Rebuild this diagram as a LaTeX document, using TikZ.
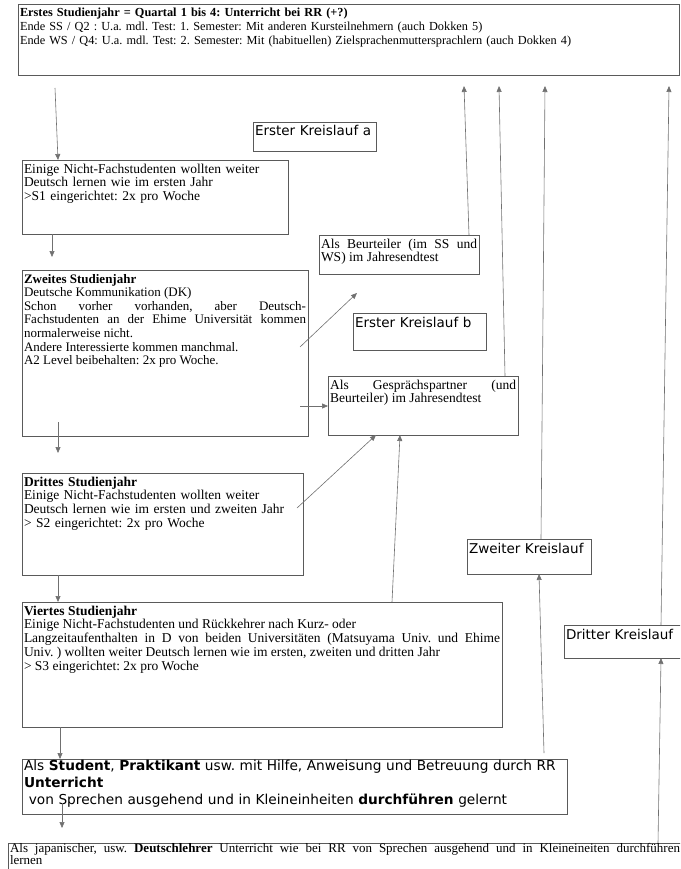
\documentclass[tikz,border=0pt]{standalone}
\usepackage{fontspec}
\setmainfont{Liberation Serif}
\newfontfamily\sansfont{DejaVu Sans}
\usetikzlibrary{arrows.meta}
\definecolor{framegray}{HTML}{5A5A5A}
\definecolor{linegray}{HTML}{707070}
\frenchspacing
\tikzset{
  box/.style={draw=framegray, line width=0.8pt, anchor=north west, inner sep=2pt,
    outer sep=0pt, align=left, text height=11pt, font=\fontsize{13.5}{13.8}\selectfont},
  sbox/.style={box, text height=12pt, font=\sansfont\fontsize{13.5}{17}\selectfont},
  conn/.style={draw=linegray, line width=0.6pt, -{Triangle[length=6pt,width=5pt]}}
}
\begin{document}
\begin{tikzpicture}[x=1pt, y=-1pt]
  \useasboundingbox (0,0) rectangle (680,869);
  \clip (0,0) rectangle (680,869);

  % Year boxes (left column)
  \node[box, text width=657pt, text depth=56pt, font=\fontsize{12.3}{14}\selectfont] (jahr1) at (18,4)
    {\textbf{Erstes Studienjahr = Quartal 1 bis 4: Unterricht bei RR (+?)}\\
     Ende SS / Q2 : U.a. mdl. Test: 1. Semester: Mit anderen Kursteilnehmern (auch Dokken 5)\\
     Ende WS / Q4: U.a. mdl. Test: 2. Semester: Mit (habituellen) Zielsprachenmuttersprachlern (auch Dokken 4)};
  \node[box, text width=262pt, text depth=59pt] (s1) at (22,160)
    {Einige Nicht-Fachstudenten wollten weiter\\Deutsch lernen wie im ersten Jahr\\>S1 eingerichtet: 2x pro Woche};
  \node[box, align=justify, text width=282pt, text depth=151pt, font=\fontsize{13}{13.6}\selectfont] (jahr2) at (22,270)
    {\textbf{Zweites Studienjahr}\\Deutsche Kommunikation (DK)\\
     Schon vorher vorhanden, aber Deutsch-\linebreak Fachstudenten an der Ehime Universit\"at kommen\linebreak
     normalerweise nicht.\\Andere Interessierte kommen manchmal.\\A2 Level beibehalten: 2x pro Woche.};
  \node[box, text width=277pt, text depth=87pt] (jahr3) at (22,473)
    {\textbf{Drittes Studienjahr}\\Einige Nicht-Fachstudenten wollten weiter\\
     Deutsch lernen wie im ersten und zweiten Jahr\\> S2 eingerichtet: 2x pro Woche};
  \node[box, align=justify, text width=476pt, text depth=110pt] (jahr4) at (22,602)
    {\textbf{Viertes Studienjahr}\\Einige Nicht-Fachstudenten und R\"uckkehrer nach Kurz- oder\\
     Langzeitaufenthalten in D von beiden Universit\"aten (Matsuyama Univ. und Ehime\linebreak
     Univ. ) wollten weiter Deutsch lernen wie im ersten, zweiten und dritten Jahr\\
     > S3 eingerichtet: 2x pro Woche};
  \node[sbox, text width=541pt, text height=9.5pt, text depth=41.5pt, font=\sansfont\fontsize{13.7}{17}\selectfont] (student) at (22,759)
    {Als \textbf{Student}, \textbf{Praktikant} usw. mit Hilfe, Anweisung und Betreuung durch RR\\
     \textbf{Unterricht}\\\hspace*{0.35em}von Sprechen ausgehend und in Kleineinheiten \textbf{durchf\"uhren} gelernt};
  \node[box, align=justify, text width=670pt, text height=7pt, text depth=29pt, font=\fontsize{13}{12.5}\selectfont] (lehrer) at (8,843)
    {Als japanischer, usw. \textbf{Deutschlehrer} Unterricht wie bei RR von Sprechen ausgehend und in
     Kleineineiten durchf\"uhren\linebreak lernen};

  % Roles and cycles (right side)
  \node[box, align=justify, text width=156pt, text depth=24pt] (beurteiler) at (319,235)
    {Als Beurteiler (im SS und\linebreak WS) im Jahresendtest};
  \node[box, align=justify, text width=186pt, text depth=44pt] (partner) at (328,376)
    {Als Gespr\"achspartner (und\linebreak Beurteiler) im Jahresendtest};
  \node[sbox, text width=119pt, text depth=13pt] (kla) at (253,122) {Erster Kreislauf a};
  \node[sbox, text width=129pt, text depth=21pt] (klb) at (353,313) {Erster Kreislauf b};
  \node[sbox, text width=120pt, text depth=19pt] (kl2) at (467,539) {Zweiter Kreislauf};
  \node[sbox, text width=136pt, text depth=17pt] (kl3) at (564,625) {Dritter Kreislauf};

  % Free ends
  \coordinate (start) at (55,88);
  \coordinate (s1end) at (52,257);
  \coordinate (j2in) at (58,422);
  \coordinate (j2end) at (58,453);
  \coordinate (stin) at (62,803);
  \coordinate (stend) at (62,828);
  \coordinate (j2a) at (300,347);
  \coordinate (j2aend) at (357,293);
  \coordinate (j2b) at (300,406);
  \coordinate (j3a) at (297,508);

  % Down the years
  \draw[conn] (start) -- (58,0 |- s1.north);
  \draw[conn] (52,0 |- s1.south) -- (s1end);
  \draw[conn] (j2in) -- (j2end);
  \draw[conn] (58,0 |- jahr3.south) -- (58,0 |- jahr4.north);
  \draw[conn] (60,0 |- jahr4.south) -- (60,0 |- student.north);
  \draw[conn] (stin) -- (stend);

  % Into the test roles
  \draw[conn] (j2a) -- (j2aend);
  \draw[conn] (j2b) -- (j2b -| partner.west);
  \draw[conn] (j3a) -- (376,0 |- partner.south);
  \draw[conn] (392,0 |- jahr4.north) -- (400,0 |- partner.south);

  % Back up to the first year
  \foreach \src/\x/\tx in {beurteiler/469/464, partner/505/499, kl2/541/545, kl3/661/669} {
    \coordinate (up-\src) at (\tx,86);
    \draw[conn] (\x,0 |- \src.north) -- (up-\src);
  }
  \draw[conn] (544,753) -- (539,0 |- kl2.south);
  \draw[conn] (658,0 |- lehrer.north) -- (661,0 |- kl3.south);
\end{tikzpicture}
\end{document}
